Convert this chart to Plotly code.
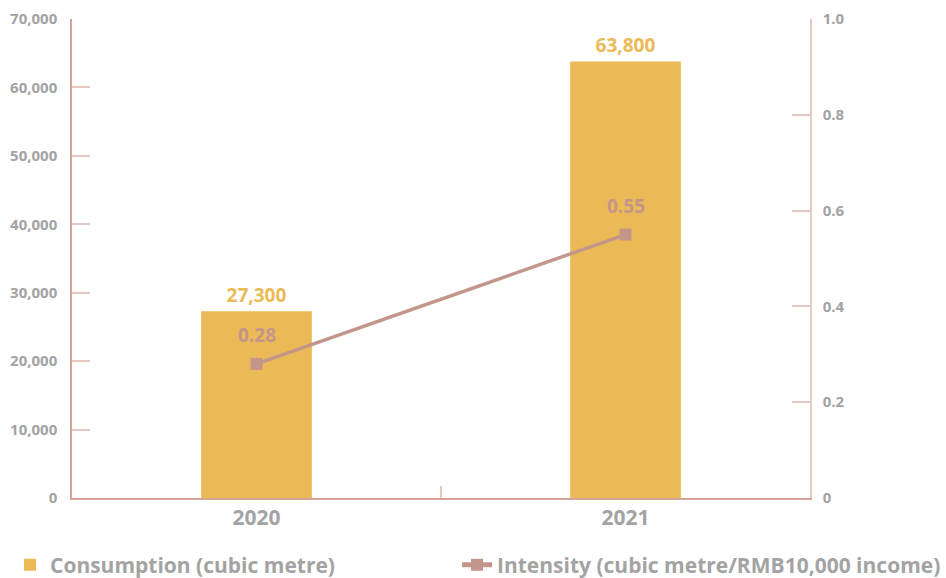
import plotly.graph_objects as go

# Water consumption and intensity by year
years = ["2020", "2021"]
consumption = [27300, 63800]
intensity = [0.28, 0.55]

left_ticks = [0, 10000, 20000, 30000, 40000, 50000, 60000, 70000]
left_labels = ["0", "10,000", "20,000", "30,000", "40,000", "50,000", "60,000", "70,000"]
right_ticks = [0, 0.2, 0.4, 0.6, 0.8, 1.0]
right_labels = ["0", "0.2", "0.4", "0.6", "0.8", "1.0"]

GOLD = "#EBBA56"
ROSE = "#C4968A"
AXIS = "#D3A497"
TICK = "#E6C8C0"
GREY = "#A3A3A3"
FONT = "Open Sans"

fig = go.Figure()

fig.add_trace(go.Bar(
    x=years, y=consumption, name="Consumption (cubic metre)",
    marker=dict(color=GOLD, line=dict(width=0)), width=0.3,
    text=[f"{v:,}" for v in consumption], textposition="outside",
    textfont=dict(family=FONT, size=19, color=GOLD, weight=700),
    cliponaxis=False, legend="legend",
))

fig.add_trace(go.Scatter(
    x=years, y=intensity, yaxis="y2", name="Intensity (cubic metre/RMB10,000 income)",
    mode="lines+markers",
    line=dict(color=ROSE, width=3.5),
    marker=dict(symbol="square", size=12, color=ROSE),
    legend="legend2",
))

# value labels for the intensity line (category index positions)
for i, v in enumerate(intensity):
    fig.add_annotation(
        x=i, y=v, xref="x", yref="y2", text=f"{v:.2f}", showarrow=False,
        yshift=29, font=dict(family=FONT, size=19, color=ROSE, weight=700),
    )

legend_common = dict(
    xref="container", yref="container", xanchor="left",
    y=1 - 565 / 578, yanchor="middle",
    font=dict(family=FONT, size=21, color=GREY, weight=700),
    bgcolor="rgba(0,0,0,0)", itemsizing="constant",
)

fig.update_layout(
    width=946, height=578,
    margin=dict(l=72, r=136, t=19, b=80, autoexpand=False),
    paper_bgcolor="white", plot_bgcolor="white",
    showlegend=True,
    legend=dict(x=10 / 946, **legend_common),
    legend2=dict(x=457 / 946, **legend_common),
    xaxis=dict(
        type="category", categoryorder="array", categoryarray=years,
        range=[-0.5, len(years) - 0.5], tickson="boundaries",
        ticks="inside", ticklen=12, tickcolor=TICK, tickwidth=1.5,
        showline=True, linecolor=AXIS, linewidth=1.5,
        showgrid=False, zeroline=False,
        tickfont=dict(family=FONT, size=21, color=GREY, weight=700),
    ),
    yaxis=dict(
        range=[0, 70000], tickvals=left_ticks, ticktext=left_labels,
        ticks="inside", ticklen=18, tickcolor=TICK, tickwidth=1.5,
        showline=True, linecolor=AXIS, linewidth=1.5,
        showgrid=False, zeroline=False, ticklabelstandoff=10,
        tickfont=dict(family=FONT, size=15, color=GREY, weight=700),
    ),
    yaxis2=dict(
        range=[0, 1.0], tickvals=right_ticks, ticktext=right_labels,
        overlaying="y", side="right",
        ticks="inside", ticklen=18, tickcolor=TICK, tickwidth=1.5,
        showline=True, linecolor=TICK, linewidth=1.5,
        showgrid=False, zeroline=False, ticklabelstandoff=8,
        tickfont=dict(family=FONT, size=15, color=GREY, weight=700),
    ),
)

fig.write_html("out.html")
